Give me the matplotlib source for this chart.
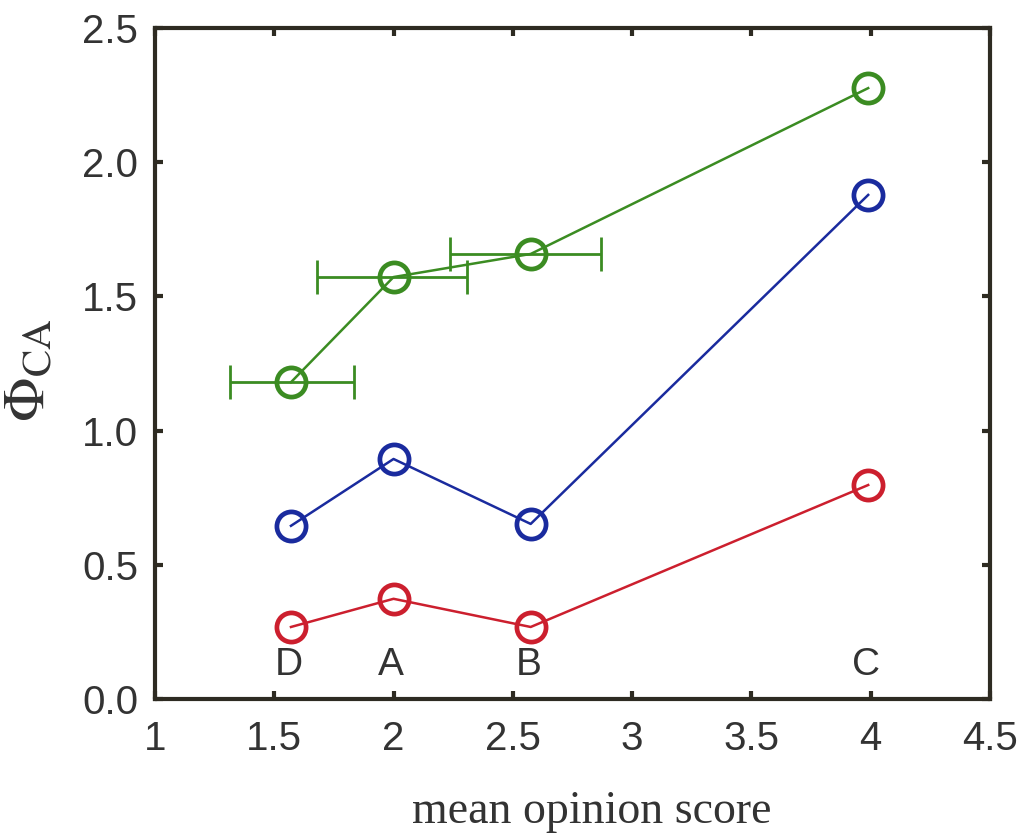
import matplotlib
matplotlib.use("Agg")
import matplotlib.pyplot as plt

plt.rcParams["mathtext.fontset"] = "stix"

# mean opinion score for the four samples
labels = ["D", "A", "B", "C"]
mos = [1.57, 2.00, 2.575, 3.99]

phi_green = [1.18, 1.572, 1.658, 2.276]
phi_blue = [0.645, 0.894, 0.652, 1.878]
phi_red = [0.268, 0.373, 0.268, 0.797]

# horizontal error bars on the green series (first three points)
err_lo = [0.255, 0.32, 0.34]
err_hi = [0.265, 0.31, 0.295]

label_y = 0.127

green = "#3b8c22"
blue = "#1a2b9e"
red = "#cc1f2e"
dark = "#2e2b22"

fig = plt.figure(figsize=(10.3, 8.36), dpi=100)
ax = fig.add_axes([0.1505, 0.164, 0.8105, 0.8025])

mk = dict(marker="o", markersize=21, markerfacecolor="none", markeredgewidth=3.4, linewidth=1.8)
ax.plot(mos, phi_green, color=green, **mk)
ax.plot(mos, phi_blue, color=blue, **mk)
ax.plot(mos, phi_red, color=red, **mk)

ax.errorbar(mos[:3], phi_green[:3], xerr=[err_lo, err_hi], fmt="none",
            ecolor=green, elinewidth=2, capsize=12, capthick=2)

for lab, x in zip(labels, mos):
    ax.text(x - 0.01, label_y, lab, ha="center", va="center", fontsize=28,
            family="Liberation Sans", color="#333333")

ax.set_xlim(1, 4.5)
ax.set_ylim(0, 2.5)
ax.set_xticks([1, 1.5, 2, 2.5, 3, 3.5, 4, 4.5])
ax.set_xticklabels(["1", "1.5", "2", "2.5", "3", "3.5", "4", "4.5"])
ax.set_yticks([0, 0.5, 1.0, 1.5, 2.0, 2.5])
ax.set_yticklabels(["0.0", "0.5", "1.0", "1.5", "2.0", "2.5"])

for s in ax.spines.values():
    s.set_linewidth(3)
    s.set_color(dark)
ax.tick_params(direction="in", length=6, width=3, color=dark,
               top=True, right=True, labelsize=29, labelcolor="#333333")
ax.tick_params(axis="x", pad=15)
ax.tick_params(axis="y", pad=12)
for t in ax.get_xticklabels() + ax.get_yticklabels():
    t.set_family("Liberation Sans")

ax.set_xlabel("mean opinion score", family="Liberation Serif", fontsize=33, color="#333333")
ax.xaxis.set_label_coords(0.523, -0.137)
ax.set_ylabel(r"$\Phi_{\mathrm{CA}}$", fontsize=42, color="#333333")
ax.yaxis.set_label_coords(-0.118, 0.49)

fig.savefig("out.png", dpi=100)
